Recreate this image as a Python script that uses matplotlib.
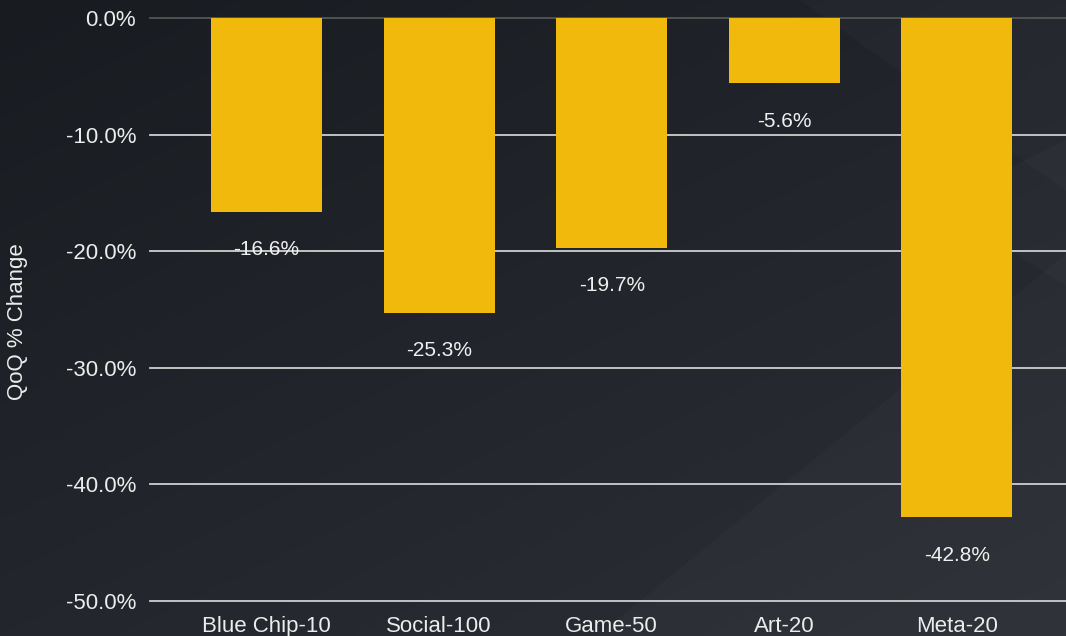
import matplotlib.pyplot as plt
import numpy as np
from matplotlib.patches import Polygon
from matplotlib.ticker import FuncFormatter

categories = ['Blue Chip-10', 'Social-100', 'Game-50', 'Art-20', 'Meta-20']
qoq_change = [-16.6, -25.3, -19.7, -5.6, -42.8]
y_ticks = [0, -10, -20, -30, -40, -50]

plt.rcParams['font.family'] = ['Liberation Sans', 'DejaVu Sans']

W, H = 1066, 636
fig = plt.figure(figsize=(W / 100, H / 100), dpi=100)

# dark gradient background with faint diagonal shapes
bg = fig.add_axes([0, 0, 1, 1], zorder=0)
yy, xx = np.mgrid[0:1:200j, 0:1:300j]
t = 0.55 * (1 - yy) + 0.45 * xx
c0 = np.array([24, 27, 32]) / 255
c1 = np.array([44, 47, 54]) / 255
img = c0 + (c1 - c0) * t[..., None]
bg.imshow(img, extent=[0, 1, 0, 1], origin='lower', aspect='auto')
shapes = [
    [(0.56, 0.0), (1.0, 0.0), (1.0, 0.6)],
    [(0.75, 1.0), (1.0, 1.0), (1.0, 0.7)],
    [(0.88, 0.68), (1.0, 0.78), (1.0, 0.55)],
]
for s in shapes:
    bg.add_patch(Polygon(s, closed=True, color='white', alpha=0.02, lw=0))
bg.set_xlim(0, 1)
bg.set_ylim(0, 1)
bg.axis('off')

ax = fig.add_axes([150 / W, (H - 601) / H, (W - 150) / W, (601 - 18) / H], zorder=1)
ax.patch.set_alpha(0)

x = np.arange(len(categories))
ax.bar(x, qoq_change, width=0.643, color='#F0B90B', zorder=3)
for xi, v in zip(x, qoq_change):
    ax.annotate(f'{v:.1f}%', (xi, v), xytext=(0, -38), textcoords='offset pixels',
                ha='center', va='center', color='#f0f0f0', fontsize=15, zorder=4)

ax.set_ylim(-50, 0)
ax.set_xlim((150 - 266.5) / 172.6, (1066 - 266.5) / 172.6)
ax.set_yticks(y_ticks)
ax.yaxis.set_major_formatter(FuncFormatter(lambda v, p: f'{v:.1f}%'))
for v in y_ticks:
    ax.axhline(v, color='#555555' if v == 0 else '#cfcfcf', lw=1.3, zorder=2, clip_on=False)

ax.set_xticks(x)
ax.set_xticklabels(categories)
ax.tick_params(axis='both', length=0, colors='#ececec', labelsize=16)
ax.tick_params(axis='y', pad=10)
ax.tick_params(axis='x', pad=11)
for sp in ax.spines.values():
    sp.set_visible(False)

fig.text(18 / W, 1 - 322 / H, 'QoQ % Change', rotation=90, ha='center', va='center',
         color='#ececec', fontsize=16)

fig.savefig('out.png', dpi=100)
